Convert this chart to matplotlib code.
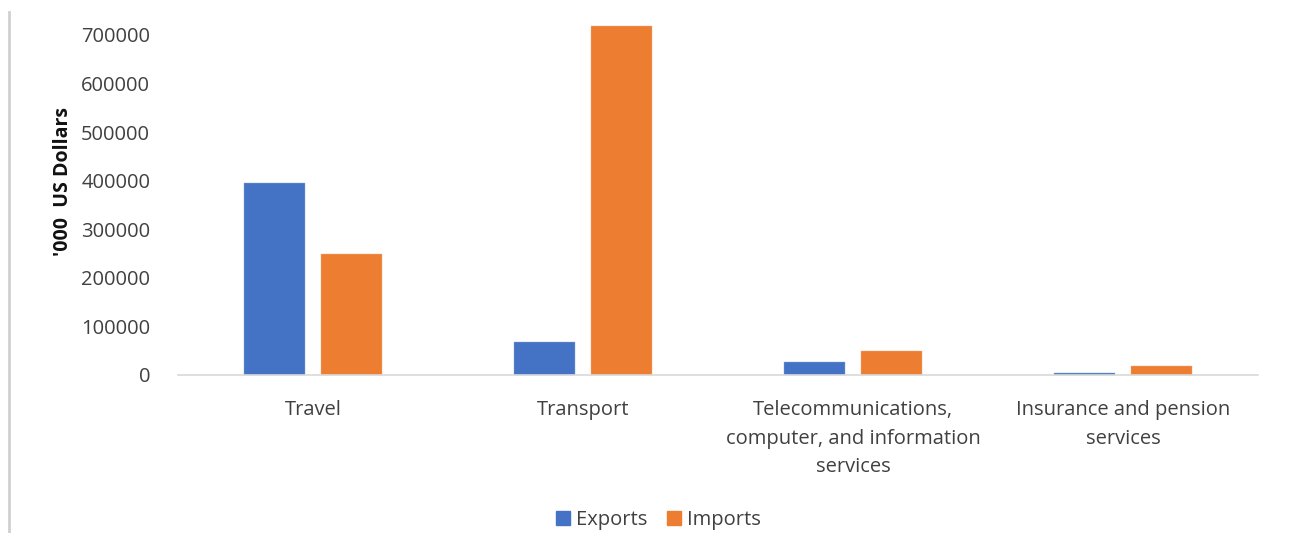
import numpy as np
import matplotlib.pyplot as plt
from matplotlib.lines import Line2D

plt.rcParams['font.family'] = ['Open Sans', 'DejaVu Sans']

categories = ['Travel', 'Transport',
              'Telecommunications,\ncomputer, and information\nservices',
              'Insurance and pension\nservices']
exports = [395000, 68000, 26000, 4700]
imports = [250000, 718000, 49000, 18000]
yticks = [0, 100000, 200000, 300000, 400000, 500000, 600000, 700000]

blue = '#4472C4'
orange = '#ED7D31'

fig = plt.figure(figsize=(12.9, 5.33), dpi=100)
ax = fig.add_axes([178 / 1290, 1 - 375 / 533, 1080 / 1290, 340 / 533])

x = np.arange(len(categories))
w = 0.226
off = 0.144
ax.bar(x - off, exports, w, color=blue, label='Exports', clip_on=False,
       edgecolor='#8faadc', linewidth=0.3)
ax.bar(x + off, imports, w, color=orange, label='Imports', clip_on=False,
       edgecolor='#f4b183', linewidth=0.3)

ax.set_xlim(-0.5, len(categories) - 0.5)
ax.set_ylim(0, 700000)
ax.set_yticks(yticks)
ax.set_yticklabels([str(v) for v in yticks], fontsize=14.5, color='#404040')
ax.set_xticks(x)
ax.set_xticklabels(categories, fontsize=14.5, color='#404040', linespacing=1.58)
ax.tick_params(length=0)
ax.tick_params(axis='y', pad=20)
ax.tick_params(axis='x', pad=18)
for s in ['top', 'right', 'left']:
    ax.spines[s].set_visible(False)
ax.spines['bottom'].set_color('#D9D9D9')
ax.spines['bottom'].set_linewidth(1.2)

fig.text(63 / 1290, 1 - 181 / 533, "'000  US Dollars", rotation=90,
         fontsize=14, fontweight='bold', ha='center', va='center', color='#111111')

handles = [Line2D([], [], marker='s', linestyle='none', markersize=10,
                  color=c) for c in (blue, orange)]
fig.legend(handles, ['Exports', 'Imports'], loc='center',
           bbox_to_anchor=(656 / 1290, 1 - 520 / 533), ncol=2, frameon=False,
           fontsize=14.5, handletextpad=0.05, columnspacing=0.7,
           handlelength=1.2, labelcolor='#404040')

# thin grey border down the left edge
fig.add_artist(Line2D([9 / 1290, 9 / 1290], [0, 1 - 12 / 533],
                      transform=fig.transFigure, color='#D0D0D0', linewidth=2))

fig.savefig('out.png', dpi=100, facecolor='white')
